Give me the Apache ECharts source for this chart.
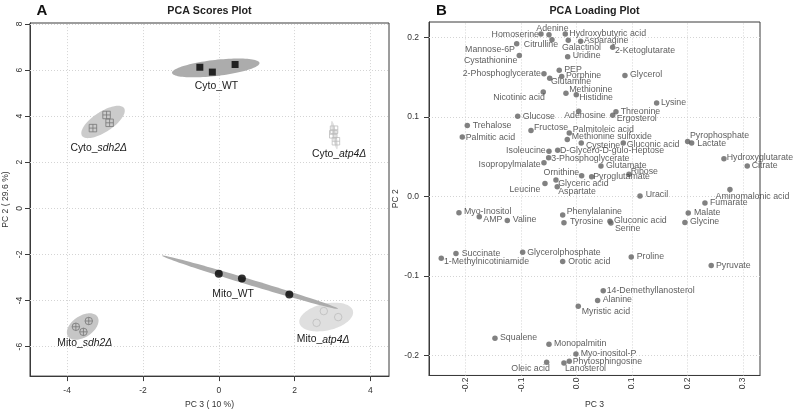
<!DOCTYPE html>
<html><head><meta charset="utf-8">
<script src="https://cdn.jsdelivr.net/npm/echarts@6/dist/echarts.min.js"></script>
<style>html,body{margin:0;padding:0;background:#fff}#c{width:793px;height:414px}</style>
</head><body><div id="c"></div>
<script>
const FONT = '"Liberation Sans", Arial, Helvetica, sans-serif';

// ---------------- Panel A: PCA scores (PC3 vs PC2) ----------------
const cytoAtp4_pc3 = [3.04, 3.02, 3.09];
const cytoAtp4_pc2 = [3.41, 3.21, 2.91];
const cytoSdh2_pc3 = [-3.32, -2.96, -2.88];
const cytoSdh2_pc2 = [3.48, 4.05, 3.71];
const cytoWT_pc3 = [-0.50, -0.17, 0.43];
const cytoWT_pc2 = [6.12, 5.91, 6.24];
const mitoAtp4_pc3 = [2.58, 2.77, 3.15];
const mitoAtp4_pc2 = [-4.97, -4.46, -4.72];
const mitoSdh2_pc3 = [-3.77, -3.57, -3.43];
const mitoSdh2_pc2 = [-5.14, -5.36, -4.89];
const mitoWT_pc3 = [0.00, 0.61, 1.86];
const mitoWT_pc2 = [-2.84, -3.04, -3.74];

const scoreXTicks = [-4, -2, 0, 2, 4];
const scoreYTicks = [-6, -4, -2, 0, 2, 4, 6, 8];

// ---------------- Panel B: PCA loadings ----------------
const metabolites = ['Adenine','Homoserine','Hydroxybutyric acid','Asparagine','Mannose-6P','Citrulline','Galactinol','2-Ketoglutarate','Uridine','Cystathionine','PEP','2-Phosphoglycerate','Porphine','Glycerol','Glutamine','Methionine','Nicotinic acid','Histidine','Lysine','Threonine','Adenosine','Glucose','Ergosterol','Trehalose','Fructose','Palmitoleic acid','Palmitic acid','Methionine sulfoxide','Cysteine','Gluconic acid','Pyrophosphate','Lactate','D-Glycero-D-gulo-Heptose','Isoleucine','3-Phosphoglycerate','Glutamate','Hydroxyglutarate','Citrate','Isopropylmalate','Ribose','Ornithine','Pyroglutamate','Glyceric acid','Leucine','Aspartate','Uracil','Aminomalonic acid','Fumarate','Myo-Inositol','AMP','Valine','Phenylalanine','Tyrosine','Gluconic acid','Malate','Glycine','Serine','Succinate','1-Methylnicotiniamide','Glycerolphosphate','Orotic acid','Proline','Pyruvate','14-Demethyllanosterol','Alanine','Myristic acid','Squalene','Monopalmitin','Myo-inositol-P','Oleic acid','Phytosphingosine','Lanosterol'];
const loadPC3 = [-0.0499,-0.0643,-0.0205,0.0072,-0.1081,-0.0445,-0.0151,0.0649,-0.0162,-0.1034,-0.0314,-0.0589,-0.0270,0.0870,-0.0486,-0.0193,-0.0602,-0.0007,0.1441,0.0708,0.0036,-0.1063,0.0649,-0.1971,-0.0823,-0.0133,-0.2061,-0.0169,0.0083,0.0840,0.2000,0.2072,-0.0342,-0.0499,-0.0505,0.0438,0.2654,0.3074,-0.0589,0.0942,0.0090,0.0270,-0.0373,-0.0571,-0.0350,0.1141,0.2762,0.2312,-0.2121,-0.1755,-0.1250,-0.0252,-0.0229,0.0600,0.2011,0.1951,0.0618,-0.2175,-0.2440,-0.0973,-0.0252,0.0984,0.2425,0.0479,0.0378,0.0029,-0.1472,-0.0499,-0.0013,-0.0541,-0.0133,-0.0229];
const loadPC2 = [0.2035,0.2043,0.2043,0.1952,0.1920,0.1973,0.1964,0.1877,0.1759,0.1775,0.1589,0.1543,0.1511,0.1523,0.1486,0.1300,0.1313,0.1279,0.1176,0.1065,0.1072,0.1011,0.1023,0.0892,0.0830,0.0800,0.0747,0.0718,0.0672,0.0672,0.0693,0.0672,0.0582,0.0570,0.0487,0.0384,0.0474,0.0384,0.0425,0.0280,0.0260,0.0248,0.0206,0.0165,0.0124,0.0007,0.0087,-0.0083,-0.0203,-0.0256,-0.0302,-0.0232,-0.0331,-0.0310,-0.0207,-0.0327,-0.0334,-0.0718,-0.0776,-0.0702,-0.0817,-0.0760,-0.0867,-0.1185,-0.1309,-0.1380,-0.1783,-0.1858,-0.1981,-0.2085,-0.2073,-0.2093];

const loadXTicks = [-0.2, -0.1, 0, 0.1, 0.2, 0.3];
const loadYTicks = [-0.2, -0.1, 0, 0.1, 0.2];

// ---------------- styling (not data) ----------------
// label placement per loading point: [align, dx, dy] relative to the dot centre (px)
const labelPlace = [
 ['c',3.5,-5.7],['l',-2,0],['r',4,-1],['r',3.3,-1],['l',-1.7,5.7],['c',-11,5],['c',13.2,7.6],['r',2.3,3],['r',5,-0.6],['l',-2,5],
 ['r',5,-1],['l',-3,0],['r',4.3,-0.6],['r',5,-0.6],['r',1.3,3.4],['r',3.3,-3.6],['l',1.7,5.7],['r',3,3],['r',4.3,0],['r',4.7,-0.6],
 ['c',6.3,4],['r',5,0],['r',4,3.3],['r',5.4,0],['r',3,-3],['r',3.4,-3],['r',3.4,0.3],['r',4.4,-2.6],['r',4.7,2.3],['r',3.4,1],
 ['r',2.3,-6],['r',5.6,0],['r',2.3,0],['l',-3.3,-1],['r',2.6,0.7],['r',5,-0.6],['r',2.7,-1.7],['r',4.4,0],['l',-3.3,1.7],['r',1.7,-2.7],
 ['l',-2.4,-3.3],['r',1.6,0],['r',2.3,3.3],['l',-4.7,5.7],['r',1,5],['r',5.7,-1],['c',22.5,6.7],['r',5,-0.3],['r',5,-0.7],['r',4,2.7],
 ['r',5.4,-1],['r',4,-3],['r',6,-1],['r',4,-0.3],['r',5.7,-0.3],['r',5,-0.7],['r',4,5.4],['r',5.7,0],['r',2.7,3.7],['r',4.6,0],
 ['r',5.6,-0.3],['r',5.4,-0.7],['r',4.7,-0.3],['r',3.4,0],['r',5,-1],['r',3.4,5],['r',5,-0.6],['r',5,-0.6],['r',4.7,-0.6],['l',3.3,6.6],
 ['r',3.4,0.6],['r',1,6]
];

const SQ_PLUS = 'path://M0,0L10,0L10,10L0,10Z M5,0L5,10 M0,5L10,5';
const CIRC_PLUS = 'path://M10,5A5,5,0,1,1,0,5A5,5,0,1,1,10,5Z M5,0L5,10 M0,5L10,5';

const groups = [
 {pre:'Cyto_', it:'atp4Δ', x:cytoAtp4_pc3, y:cytoAtp4_pc2, symbol:SQ_PLUS, size:7.5, color:'#bdbdbd', hollow:true, fill:'#e0e0e0', lab:[4.7,19.2]},
 {pre:'Cyto_', it:'sdh2Δ', x:cytoSdh2_pc3, y:cytoSdh2_pc2, symbol:SQ_PLUS, size:7.5, color:'#777777', hollow:true, fill:'#cbcbcb', lab:[-4.3,25.9]},
 {pre:'Cyto_WT', it:'', x:cytoWT_pc3, y:cytoWT_pc2, symbol:'rect', size:7, color:'#000000', hollow:false, fill:'#acacac', lab:[0.7,17.9]},
 {pre:'Mito_', it:'atp4Δ', x:mitoAtp4_pc3, y:mitoAtp4_pc2, symbol:'circle', size:7.5, color:'#bdbdbd', hollow:true, fill:'#dfdfdf', lab:[-3.1,22.6]},
 {pre:'Mito_', it:'sdh2Δ', x:mitoSdh2_pc3, y:mitoSdh2_pc2, symbol:CIRC_PLUS, size:7.5, color:'#777777', hollow:true, fill:'#c6c6c6', lab:[2.1,16.4]},
 {pre:'Mito_WT', it:'', x:mitoWT_pc3, y:mitoWT_pc2, symbol:'circle', size:8, color:'#000000', hollow:false, fill:'#acacac', lab:[-16.9,11.5]}
];

// 95% confidence ellipse (ellipse package formula), from each group's points
const ellT = Math.sqrt(5.991465); // sqrt(qchisq(0.95, 2))
function ellipseOf(xs, ys, n) {
  const m = xs.length;
  const mx = xs.reduce((a,b)=>a+b,0)/m, my = ys.reduce((a,b)=>a+b,0)/m;
  let sxx=0, syy=0, sxy=0;
  for (let i=0;i<m;i++){const dx=xs[i]-mx, dy=ys[i]-my; sxx+=dx*dx; syy+=dy*dy; sxy+=dx*dy;}
  sxx/=(m-1); syy/=(m-1); sxy/=(m-1);
  const sx=Math.sqrt(sxx), sy=Math.sqrt(syy);
  const r=Math.max(-1,Math.min(1,sxy/(sx*sy)));
  const d=Math.acos(r);
  const pts=[];
  for (let k=0;k<n;k++){const a=2*Math.PI*k/n; pts.push([mx+ellT*sx*Math.cos(a+d/2), my+ellT*sy*Math.cos(a-d/2)]);}
  return {pts, mx, my};
}
groups.forEach(g => { g.ell = ellipseOf(g.x, g.y, 100); });

const gridLine = {type:[1,2], color:'#d4d4d4', width:1};
function gridMarks(xt, yt) {
  return {
    z:1, silent:true, symbol:['none','none'], animation:false,
    label:{show:false}, lineStyle:gridLine, emphasis:{disabled:true},
    data:[...xt.map(v=>({xAxis:v})), ...yt.map(v=>({yAxis:v}))]
  };
}

const tickTxt = {fontSize:8.5, color:'#333', fontFamily:FONT};
const nameTxt = {fontSize:8.6, color:'#333', fontFamily:FONT};

const series = [];
// grid lines
series.push({type:'scatter', xAxisIndex:0, yAxisIndex:0, data:[], z:1, markLine:gridMarks(scoreXTicks, scoreYTicks)});
series.push({type:'scatter', xAxisIndex:1, yAxisIndex:1, data:[], z:1, markLine:gridMarks(loadXTicks, loadYTicks)});
// ellipses
series.push({
  type:'custom', xAxisIndex:0, yAxisIndex:0, z:2, silent:true, clip:false,
  data: groups.map(g => [g.ell.mx, g.ell.my]),
  renderItem: (params, api) => {
    const g = groups[params.dataIndex];
    return {type:'polygon', shape:{points: g.ell.pts.map(p => api.coord(p))}, style:{fill:g.fill}};
  }
});
// score points
groups.forEach(g => {
  series.push({
    type:'scatter', xAxisIndex:0, yAxisIndex:0, z:3, silent:true,
    symbol:g.symbol, symbolSize:g.size,
    itemStyle: g.hollow ? {color:'rgba(0,0,0,0)', borderColor:g.color, borderWidth:1} : {color:g.color},
    data: g.x.map((v,i)=>[v, g.y[i]])
  });
});
// group labels
series.push({
  type:'custom', xAxisIndex:0, yAxisIndex:0, z:4, silent:true, clip:false,
  data: groups.map(g => [g.ell.mx, g.ell.my]),
  renderItem: (params, api) => {
    const g = groups[params.dataIndex];
    const c = api.coord([g.ell.mx, g.ell.my]);
    const txt = g.it ? '{n|' + g.pre + '}{i|' + g.it + '}' : '{n|' + g.pre + '}';
    return {type:'text', x:c[0]+g.lab[0], y:c[1]+g.lab[1], style:{
      text:txt, align:'center', verticalAlign:'middle', fill:'#1a1a1a',
      fontSize:10.4, fontFamily:FONT,
      rich:{n:{fontSize:10.4, fontFamily:FONT, fill:'#1a1a1a'}, i:{fontSize:10.4, fontFamily:FONT, fontStyle:'italic', fill:'#1a1a1a'}}
    }};
  }
});
// loading points
series.push({
  type:'scatter', xAxisIndex:1, yAxisIndex:1, z:3, silent:true,
  symbol:'circle', symbolSize:5.5, itemStyle:{color:'#626262'},
  label:{show:true, position:'inside', formatter:p=>p.name, fontSize:8.8, color:'#333', fontFamily:FONT},
  data: metabolites.map((n,i) => {
    const lp = labelPlace[i];
    const align = lp[0]==='r' ? 'left' : (lp[0]==='l' ? 'right' : 'center');
    return {name:n, value:[loadPC3[i], loadPC2[i]], label:{align:align, verticalAlign:'middle', offset:[lp[1], lp[2]]}};
  })
});

const option = {
  animation:false,
  backgroundColor:'#ffffff',
  grid:[
    {left:30, top:23, width:359, height:359, show:true, borderColor:'#3a3a3a', borderWidth:1, backgroundColor:'transparent'},
    {left:429, top:22, width:331, height:359, show:true, borderColor:'#3a3a3a', borderWidth:1, backgroundColor:'transparent'}
  ],
  xAxis:[
    {gridIndex:0, type:'value', min:-4.98, max:4.49,
     axisLine:{show:true, onZero:false, lineStyle:{color:'#3a3a3a'}}, splitLine:{show:false},
     axisTick:{show:true, customValues:scoreXTicks, length:5, lineStyle:{color:'#3a3a3a'}},
     axisLabel:Object.assign({customValues:scoreXTicks, margin:10}, tickTxt),
     name:'PC 3 ( 10 %)', nameLocation:'middle', nameGap:22, nameTextStyle:nameTxt},
    {gridIndex:1, type:'value', min:-0.2661, max:0.3304,
     axisLine:{show:true, onZero:false, lineStyle:{color:'#3a3a3a'}}, splitLine:{show:false},
     axisTick:{show:false, customValues:loadXTicks},
     axisLabel:Object.assign({customValues:loadXTicks, rotate:90, margin:2, formatter:v=>v.toFixed(1)}, tickTxt),
     name:'PC 3', nameLocation:'middle', nameGap:21, nameTextStyle:nameTxt}
  ],
  yAxis:[
    {gridIndex:0, type:'value', min:-7.28, max:8.04,
     axisLine:{show:true, onZero:false, lineStyle:{color:'#3a3a3a'}}, splitLine:{show:false},
     axisTick:{show:true, customValues:scoreYTicks, length:5, lineStyle:{color:'#3a3a3a'}},
     axisLabel:Object.assign({customValues:scoreYTicks, rotate:90, margin:6}, tickTxt),
     name:'PC 2 ( 29.6 %)', nameLocation:'middle', nameGap:20, nameTextStyle:nameTxt},
    {gridIndex:1, type:'value', min:-0.2251, max:0.2195,
     axisLine:{show:true, onZero:false, lineStyle:{color:'#3a3a3a'}}, splitLine:{show:false},
     axisTick:{show:true, customValues:loadYTicks, length:5, lineStyle:{color:'#3a3a3a'}},
     axisLabel:Object.assign({customValues:loadYTicks, margin:10, formatter:v=>v.toFixed(1)}, tickTxt),
     name:'PC 2', nameLocation:'middle', nameGap:23.5, nameTextStyle:nameTxt}
  ],
  graphic:[
    {type:'text', x:42, y:11, style:{text:'A', font:'bold 15px ' + FONT, fill:'#111', align:'center', verticalAlign:'middle'}},
    {type:'text', x:441.5, y:11, style:{text:'B', font:'bold 15px ' + FONT, fill:'#111', align:'center', verticalAlign:'middle'}},
    {type:'text', x:209.5, y:11, style:{text:'PCA Scores Plot', font:'bold 10.7px ' + FONT, fill:'#222', align:'center', verticalAlign:'middle'}},
    {type:'text', x:594.5, y:11, style:{text:'PCA Loading Plot', font:'bold 10.7px ' + FONT, fill:'#222', align:'center', verticalAlign:'middle'}}
  ],
  series:series
};

const chart = echarts.init(document.getElementById('c'), null, {renderer:'canvas', width:793, height:414});
chart.setOption(option);
</script>
</body></html>
